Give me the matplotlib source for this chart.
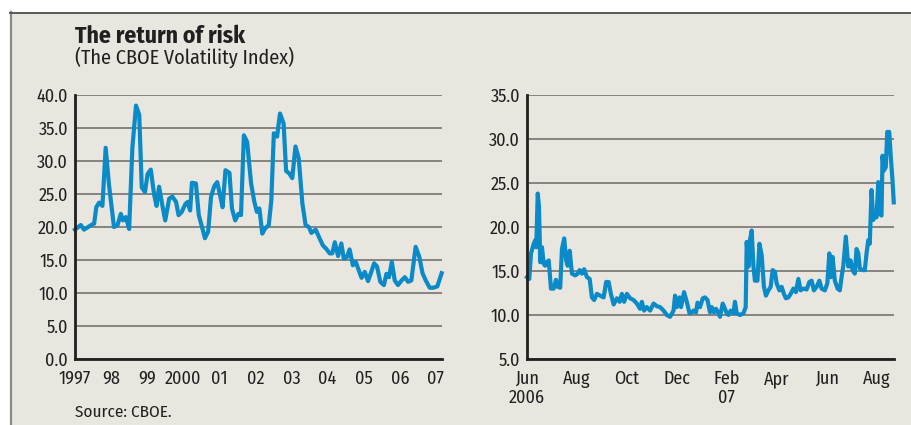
import matplotlib.pyplot as plt
from matplotlib.patches import Rectangle
from matplotlib.lines import Line2D

# Left panel: monthly VIX, x in decimal years
years = [1997.00, 1997.16, 1997.25, 1997.48, 1997.53, 1997.59, 1997.67, 1997.76, 1997.85, 1997.94,
         1998.08, 1998.18, 1998.27, 1998.33, 1998.41, 1998.50, 1998.59, 1998.69, 1998.78, 1998.85,
         1998.94, 1999.01, 1999.10, 1999.19, 1999.26, 1999.33, 1999.43, 1999.50, 1999.61, 1999.70,
         1999.80, 1999.87, 1999.96, 2000.06, 2000.12, 2000.19, 2000.24, 2000.35, 2000.43, 2000.52,
         2000.60, 2000.69, 2000.77, 2000.86, 2000.94, 2001.02, 2001.09, 2001.17, 2001.28, 2001.35,
         2001.44, 2001.53, 2001.60, 2001.68, 2001.77, 2001.88, 2001.97, 2002.04, 2002.11, 2002.19,
         2002.27, 2002.37, 2002.44, 2002.51, 2002.60, 2002.68, 2002.78, 2002.85, 2002.94, 2003.02,
         2003.11, 2003.20, 2003.30, 2003.39, 2003.48, 2003.55, 2003.67, 2003.76, 2003.87, 2003.96,
         2004.06, 2004.13, 2004.20, 2004.29, 2004.38, 2004.45, 2004.54, 2004.61, 2004.70, 2004.78,
         2004.86, 2004.94, 2005.03, 2005.12, 2005.21, 2005.29, 2005.37, 2005.46, 2005.56, 2005.63,
         2005.70, 2005.78, 2005.86, 2005.95, 2006.05, 2006.14, 2006.23, 2006.32, 2006.44, 2006.54,
         2006.63, 2006.72, 2006.83, 2006.93, 2007.04, 2007.16]
vix_long = [19.6, 20.3, 19.6, 20.4, 20.5, 23.0, 23.7, 23.2, 32.0, 26.5,
            20.0, 20.3, 22.0, 21.0, 21.5, 19.7, 32.0, 38.4, 37.0, 26.0,
            25.3, 28.0, 28.7, 25.0, 23.2, 26.1, 23.0, 21.0, 24.3, 24.6,
            23.8, 21.8, 22.3, 23.5, 23.8, 22.5, 26.7, 26.6, 21.8, 20.0,
            18.3, 19.3, 24.6, 26.2, 26.8, 24.8, 23.0, 28.6, 28.2, 22.8,
            21.0, 22.0, 21.8, 33.9, 32.9, 26.6, 23.8, 22.3, 22.8, 19.0,
            19.8, 20.3, 24.0, 34.2, 33.7, 37.2, 35.7, 28.5, 28.1, 27.4,
            32.2, 30.4, 23.6, 20.3, 20.0, 19.1, 19.6, 18.5, 17.2, 16.7,
            16.0, 16.0, 17.7, 15.6, 17.5, 15.2, 15.5, 16.6, 14.2, 14.7,
            13.5, 12.3, 13.2, 11.8, 13.2, 14.5, 14.0, 11.7, 11.2, 12.9,
            12.4, 14.7, 11.9, 11.2, 11.9, 12.4, 11.7, 11.9, 17.0, 15.5,
            13.0, 11.9, 10.8, 10.8, 11.0, 13.0]
year_ticks = [1997, 1998, 1999, 2000, 2001, 2002, 2003, 2004, 2005, 2006, 2007]
year_labels = ['1997', '98', '99', '2000', '01', '02', '03', '04', '05', '06', '07']

# Right panel: daily VIX, x in months since June 1st 2006
months = [0.00, 0.09, 0.16, 0.27, 0.33, 0.37, 0.43, 0.48, 0.53, 0.60, 0.67, 0.73, 0.80, 0.87, 0.96,
          1.07, 1.16, 1.23, 1.33, 1.40, 1.49, 1.57, 1.63, 1.71, 1.80, 1.93, 2.03, 2.11, 2.20, 2.29,
          2.40, 2.51, 2.60, 2.69, 2.80, 2.93, 3.07, 3.17, 3.27, 3.36, 3.47, 3.60, 3.71, 3.80, 3.89,
          4.00, 4.13, 4.27, 4.40, 4.53, 4.60, 4.69, 4.80, 4.93, 5.07, 5.20, 5.33, 5.47, 5.60, 5.73,
          5.87, 5.93, 6.00, 6.11, 6.17, 6.29, 6.40, 6.51, 6.60, 6.67, 6.77, 6.83, 6.93, 7.04, 7.13,
          7.23, 7.33, 7.40, 7.49, 7.57, 7.67, 7.73, 7.84, 7.93, 8.00, 8.07, 8.16, 8.27, 8.33, 8.40,
          8.53, 8.67, 8.76, 8.80, 8.87, 8.93, 9.00, 9.07, 9.13, 9.23, 9.31, 9.40, 9.49, 9.57, 9.67,
          9.76, 9.84, 9.93, 10.00, 10.11, 10.20, 10.29, 10.37, 10.47, 10.56, 10.67, 10.77, 10.87, 10.96,
          11.07, 11.20, 11.31, 11.40, 11.49, 11.60, 11.71, 11.80, 11.93, 12.03, 12.11, 12.17, 12.24,
          12.33, 12.44, 12.53, 12.60, 12.67, 12.77, 12.87, 12.96, 13.04, 13.13, 13.20, 13.27, 13.33,
          13.44, 13.53, 13.60, 13.67, 13.73, 13.80, 13.87, 13.93, 14.00, 14.07, 14.13, 14.20, 14.24,
          14.29, 14.37, 14.43, 14.51, 14.57, 14.64, 14.69]
vix_daily = [14.3, 14.1, 17.0, 18.1, 18.5, 17.7, 23.8, 22.3, 16.0, 17.7, 15.8, 15.6, 16.0, 16.2, 13.0,
             13.0, 14.0, 13.2, 13.1, 17.5, 18.7, 16.2, 15.6, 17.3, 14.7, 14.5, 14.7, 15.1, 14.7, 15.2,
             14.3, 14.1, 12.0, 11.7, 12.4, 12.2, 12.0, 13.75, 13.75, 12.4, 11.2, 11.9, 11.5, 12.4, 11.5,
             12.4, 11.9, 11.7, 11.3, 10.7, 11.5, 10.5, 10.9, 10.5, 11.3, 11.0, 10.9, 10.5, 10.0, 9.8,
             10.5, 12.2, 10.9, 12.0, 10.9, 12.6, 11.5, 10.2, 10.3, 10.5, 10.3, 11.4, 10.9, 11.9, 12.0,
             11.7, 10.3, 10.9, 10.3, 10.7, 10.2, 9.8, 11.3, 10.7, 10.2, 10.0, 10.5, 10.2, 11.5, 10.2,
             10.0, 10.2, 10.9, 18.3, 15.5, 18.5, 19.6, 15.5, 13.9, 13.9, 18.1, 16.8, 13.2, 12.2, 12.8,
             13.2, 15.1, 14.9, 13.6, 12.8, 13.2, 12.4, 11.9, 12.0, 12.4, 13.0, 12.6, 14.1, 12.8,
             13.0, 12.9, 13.75, 13.9, 12.8, 13.2, 13.9, 13.0, 12.8, 13.6, 17.0, 14.3, 16.6,
             13.9, 13.0, 12.8, 14.3, 15.6, 18.9, 15.5, 16.2, 15.1, 14.7, 17.5, 17.0, 15.3,
             15.1, 15.1, 17.0, 18.5, 18.1, 24.2, 20.8, 21.5, 21.1, 25.1, 21.5, 21.3, 28.1,
             26.4, 26.8, 30.8, 30.8, 28.0, 25.3, 22.8]
month_ticks = [0, 2, 4, 6, 8, 10, 12, 14]
month_labels = ['Jun\n2006', 'Aug', 'Oct', 'Dec', 'Feb\n07', 'Apr', 'Jun', 'Aug']

FONT = ['Fira Sans Condensed', 'Fira Sans', 'DejaVu Sans']
plt.rcParams['font.family'] = FONT
BLUE = '#0a8ac6'
BG = '#e8e6df'
INK = '#231f20'

fig = plt.figure(figsize=(9.11, 4.25), dpi=100)
fig.patch.set_facecolor('white')

# panel background with grey frame on left and top
fig.add_artist(Rectangle((10 / 911, 0), 1 - 10 / 911, 1 - 12 / 425, transform=fig.transFigure,
                         facecolor=BG, edgecolor='none', zorder=-10))
fig.add_artist(Line2D([10.5 / 911, 10.5 / 911], [0, 1 - 12 / 425], transform=fig.transFigure,
                      color='#8a8a88', lw=1.6))
fig.add_artist(Line2D([10 / 911, 1], [1 - 12.5 / 425, 1 - 12.5 / 425], transform=fig.transFigure,
                      color='#5a5a58', lw=1.4))


def style_axes(ax, ymin, ymax, step):
    ax.set_facecolor('none')
    ax.set_ylim(ymin, ymax)
    ax.set_yticks([ymin + i * step for i in range(int(round((ymax - ymin) / step)) + 1)])
    ax.yaxis.set_major_formatter(plt.FormatStrFormatter('%.1f'))
    ax.grid(axis='y', color='#7d7c78', lw=1.3)
    ax.set_axisbelow(True)
    for s in ['top', 'right']:
        ax.spines[s].set_visible(False)
    for s in ['left', 'bottom']:
        ax.spines[s].set_color(INK)
        ax.spines[s].set_linewidth(2.0)
        ax.spines[s].set_zorder(5)
    ax.tick_params(axis='y', length=0, pad=5, labelsize=13, labelcolor=INK)
    ax.tick_params(axis='x', length=0, pad=8, labelsize=13, labelcolor=INK)


ax1 = fig.add_axes([75 / 911, 1 - 359 / 425, 367 / 911, 264 / 425])
ax1.plot(years, vix_long, color=BLUE, lw=3.0, solid_joinstyle='round', clip_on=False, zorder=3)
ax1.set_xlim(1997, 2007.17)
ax1.set_xticks(year_ticks)
ax1.set_xticklabels(year_labels)
style_axes(ax1, 0, 40, 5)

ax2 = fig.add_axes([527 / 911, 1 - 359 / 425, 367 / 911, 264 / 425])
ax2.plot(months, vix_daily, color=BLUE, lw=3.0, solid_joinstyle='round', clip_on=False, zorder=3)
ax2.set_xlim(0, 14.7)
ax2.set_xticks(month_ticks)
ax2.set_xticklabels(month_labels, linespacing=1.05)
style_axes(ax2, 5, 35, 5)

fig.text(75 / 911, 1 - 43 / 425, 'The return of risk', fontsize=17, fontweight='bold',
         color=INK, va='baseline', ha='left')
fig.text(75 / 911, 1 - 64 / 425, '(The CBOE Volatility Index)', fontsize=14.5,
         color=INK, va='baseline', ha='left')
fig.text(75 / 911, 1 - 417 / 425, 'Source: CBOE.', fontsize=12.3,
         color=INK, va='baseline', ha='left')

fig.savefig('out.png', dpi=100)
